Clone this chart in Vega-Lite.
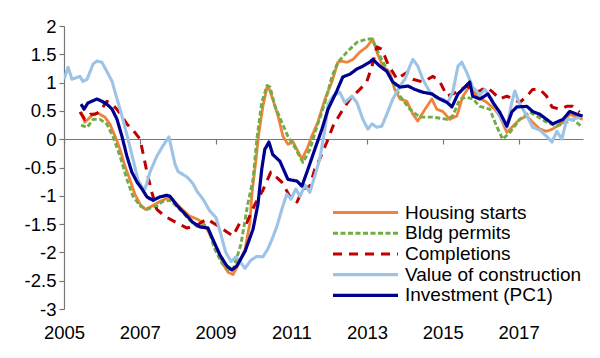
{
  "$schema": "https://vega.github.io/schema/vega-lite/v6.json",
  "width": 519,
  "height": 283,
  "autosize": "none",
  "padding": {"left": 64, "top": 26, "right": 17, "bottom": 49},
  "background": "white",
  "config": {"view": {"stroke": null}, "font": "Liberation Sans"},
  "data": {"values": [
    {"s":"Housing starts","t":2005.45,"v":0.48},{"s":"Housing starts","t":2005.55,"v":0.30},{"s":"Housing starts","t":2005.63,"v":0.35},{"s":"Housing starts","t":2005.77,"v":0.44},{"s":"Housing starts","t":2005.90,"v":0.46},{"s":"Housing starts","t":2006.08,"v":0.39},{"s":"Housing starts","t":2006.21,"v":0.27},{"s":"Housing starts","t":2006.35,"v":0.05},{"s":"Housing starts","t":2006.48,"v":-0.18},{"s":"Housing starts","t":2006.61,"v":-0.48},{"s":"Housing starts","t":2006.74,"v":-0.71},{"s":"Housing starts","t":2006.87,"v":-0.97},{"s":"Housing starts","t":2007.01,"v":-1.15},{"s":"Housing starts","t":2007.14,"v":-1.24},{"s":"Housing starts","t":2007.27,"v":-1.20},{"s":"Housing starts","t":2007.40,"v":-1.15},{"s":"Housing starts","t":2007.53,"v":-1.10},{"s":"Housing starts","t":2007.80,"v":-1.02},{"s":"Housing starts","t":2008.06,"v":-1.20},{"s":"Housing starts","t":2008.32,"v":-1.36},{"s":"Housing starts","t":2008.51,"v":-1.41},{"s":"Housing starts","t":2008.67,"v":-1.47},{"s":"Housing starts","t":2008.85,"v":-1.68},{"s":"Housing starts","t":2009.04,"v":-1.94},{"s":"Housing starts","t":2009.20,"v":-2.21},{"s":"Housing starts","t":2009.33,"v":-2.35},{"s":"Housing starts","t":2009.46,"v":-2.39},{"s":"Housing starts","t":2009.64,"v":-2.17},{"s":"Housing starts","t":2009.78,"v":-1.94},{"s":"Housing starts","t":2009.91,"v":-1.47},{"s":"Housing starts","t":2009.96,"v":-0.97},{"s":"Housing starts","t":2010.07,"v":-0.35},{"s":"Housing starts","t":2010.14,"v":0.09},{"s":"Housing starts","t":2010.25,"v":0.58},{"s":"Housing starts","t":2010.36,"v":0.92},{"s":"Housing starts","t":2010.41,"v":0.90},{"s":"Housing starts","t":2010.51,"v":0.71},{"s":"Housing starts","t":2010.65,"v":0.41},{"s":"Housing starts","t":2010.78,"v":0.05},{"s":"Housing starts","t":2010.91,"v":-0.09},{"s":"Housing starts","t":2011.04,"v":-0.04},{"s":"Housing starts","t":2011.17,"v":-0.21},{"s":"Housing starts","t":2011.28,"v":-0.35},{"s":"Housing starts","t":2011.41,"v":-0.18},{"s":"Housing starts","t":2011.54,"v":0.05},{"s":"Housing starts","t":2011.70,"v":0.30},{"s":"Housing starts","t":2011.89,"v":0.71},{"s":"Housing starts","t":2012.07,"v":1.01},{"s":"Housing starts","t":2012.23,"v":1.36},{"s":"Housing starts","t":2012.33,"v":1.38},{"s":"Housing starts","t":2012.47,"v":1.36},{"s":"Housing starts","t":2012.63,"v":1.41},{"s":"Housing starts","t":2012.81,"v":1.54},{"s":"Housing starts","t":2012.99,"v":1.63},{"s":"Housing starts","t":2013.15,"v":1.77},{"s":"Housing starts","t":2013.28,"v":1.50},{"s":"Housing starts","t":2013.42,"v":1.29},{"s":"Housing starts","t":2013.60,"v":1.18},{"s":"Housing starts","t":2013.73,"v":0.88},{"s":"Housing starts","t":2013.87,"v":0.71},{"s":"Housing starts","t":2014.05,"v":0.67},{"s":"Housing starts","t":2014.21,"v":0.44},{"s":"Housing starts","t":2014.34,"v":0.32},{"s":"Housing starts","t":2014.53,"v":0.53},{"s":"Housing starts","t":2014.71,"v":0.71},{"s":"Housing starts","t":2014.84,"v":0.53},{"s":"Housing starts","t":2015.00,"v":0.49},{"s":"Housing starts","t":2015.18,"v":0.35},{"s":"Housing starts","t":2015.37,"v":0.41},{"s":"Housing starts","t":2015.53,"v":0.76},{"s":"Housing starts","t":2015.71,"v":0.94},{"s":"Housing starts","t":2015.90,"v":0.76},{"s":"Housing starts","t":2016.16,"v":0.65},{"s":"Housing starts","t":2016.37,"v":0.53},{"s":"Housing starts","t":2016.50,"v":0.41},{"s":"Housing starts","t":2016.69,"v":0.12},{"s":"Housing starts","t":2016.85,"v":0.23},{"s":"Housing starts","t":2017.03,"v":0.35},{"s":"Housing starts","t":2017.22,"v":0.41},{"s":"Housing starts","t":2017.37,"v":0.30},{"s":"Housing starts","t":2017.56,"v":0.18},{"s":"Housing starts","t":2017.74,"v":0.14},{"s":"Housing starts","t":2017.90,"v":0.18},{"s":"Housing starts","t":2018.17,"v":0.30},{"s":"Housing starts","t":2018.35,"v":0.44},{"s":"Housing starts","t":2018.54,"v":0.39},{"s":"Housing starts","t":2018.69,"v":0.35},

    {"s":"Bldg permits","t":2005.45,"v":0.25},{"s":"Bldg permits","t":2005.61,"v":0.21},{"s":"Bldg permits","t":2005.77,"v":0.35},{"s":"Bldg permits","t":2005.95,"v":0.35},{"s":"Bldg permits","t":2006.13,"v":0.27},{"s":"Bldg permits","t":2006.29,"v":0.05},{"s":"Bldg permits","t":2006.48,"v":-0.30},{"s":"Bldg permits","t":2006.66,"v":-0.71},{"s":"Bldg permits","t":2006.82,"v":-1.01},{"s":"Bldg permits","t":2007.01,"v":-1.18},{"s":"Bldg permits","t":2007.19,"v":-1.24},{"s":"Bldg permits","t":2007.45,"v":-1.18},{"s":"Bldg permits","t":2007.61,"v":-1.10},{"s":"Bldg permits","t":2007.80,"v":-1.08},{"s":"Bldg permits","t":2008.06,"v":-1.24},{"s":"Bldg permits","t":2008.32,"v":-1.43},{"s":"Bldg permits","t":2008.51,"v":-1.54},{"s":"Bldg permits","t":2008.77,"v":-1.52},{"s":"Bldg permits","t":2008.98,"v":-1.94},{"s":"Bldg permits","t":2009.17,"v":-2.19},{"s":"Bldg permits","t":2009.33,"v":-2.30},{"s":"Bldg permits","t":2009.46,"v":-2.31},{"s":"Bldg permits","t":2009.67,"v":-1.86},{"s":"Bldg permits","t":2009.85,"v":-1.15},{"s":"Bldg permits","t":2009.99,"v":-0.71},{"s":"Bldg permits","t":2010.09,"v":0.00},{"s":"Bldg permits","t":2010.22,"v":0.65},{"s":"Bldg permits","t":2010.36,"v":0.95},{"s":"Bldg permits","t":2010.44,"v":0.92},{"s":"Bldg permits","t":2010.57,"v":0.58},{"s":"Bldg permits","t":2010.75,"v":0.30},{"s":"Bldg permits","t":2010.91,"v":0.05},{"s":"Bldg permits","t":2011.09,"v":-0.14},{"s":"Bldg permits","t":2011.23,"v":-0.32},{"s":"Bldg permits","t":2011.31,"v":-0.41},{"s":"Bldg permits","t":2011.49,"v":-0.18},{"s":"Bldg permits","t":2011.68,"v":0.23},{"s":"Bldg permits","t":2011.89,"v":0.65},{"s":"Bldg permits","t":2012.07,"v":1.10},{"s":"Bldg permits","t":2012.23,"v":1.36},{"s":"Bldg permits","t":2012.47,"v":1.54},{"s":"Bldg permits","t":2012.73,"v":1.71},{"s":"Bldg permits","t":2012.99,"v":1.77},{"s":"Bldg permits","t":2013.13,"v":1.77},{"s":"Bldg permits","t":2013.34,"v":1.47},{"s":"Bldg permits","t":2013.52,"v":1.24},{"s":"Bldg permits","t":2013.73,"v":0.94},{"s":"Bldg permits","t":2013.87,"v":0.76},{"s":"Bldg permits","t":2014.13,"v":0.53},{"s":"Bldg permits","t":2014.39,"v":0.39},{"s":"Bldg permits","t":2014.74,"v":0.39},{"s":"Bldg permits","t":2015.11,"v":0.35},{"s":"Bldg permits","t":2015.26,"v":0.41},{"s":"Bldg permits","t":2015.45,"v":0.71},{"s":"Bldg permits","t":2015.63,"v":0.74},{"s":"Bldg permits","t":2015.79,"v":0.71},{"s":"Bldg permits","t":2015.98,"v":0.58},{"s":"Bldg permits","t":2016.24,"v":0.53},{"s":"Bldg permits","t":2016.42,"v":0.23},{"s":"Bldg permits","t":2016.58,"v":0.00},{"s":"Bldg permits","t":2016.77,"v":0.12},{"s":"Bldg permits","t":2017.03,"v":0.35},{"s":"Bldg permits","t":2017.30,"v":0.48},{"s":"Bldg permits","t":2017.48,"v":0.41},{"s":"Bldg permits","t":2017.74,"v":0.30},{"s":"Bldg permits","t":2018.01,"v":0.23},{"s":"Bldg permits","t":2018.27,"v":0.30},{"s":"Bldg permits","t":2018.43,"v":0.35},{"s":"Bldg permits","t":2018.69,"v":0.21},

    {"s":"Completions","t":2005.42,"v":0.48},{"s":"Completions","t":2005.55,"v":0.35},{"s":"Completions","t":2005.69,"v":0.44},{"s":"Completions","t":2005.82,"v":0.44},{"s":"Completions","t":2005.95,"v":0.49},{"s":"Completions","t":2006.13,"v":0.67},{"s":"Completions","t":2006.27,"v":0.62},{"s":"Completions","t":2006.42,"v":0.51},{"s":"Completions","t":2006.66,"v":0.27},{"s":"Completions","t":2006.87,"v":0.12},{"s":"Completions","t":2007.01,"v":0.00},{"s":"Completions","t":2007.08,"v":-0.23},{"s":"Completions","t":2007.19,"v":-0.58},{"s":"Completions","t":2007.32,"v":-0.94},{"s":"Completions","t":2007.45,"v":-1.24},{"s":"Completions","t":2007.66,"v":-1.36},{"s":"Completions","t":2007.98,"v":-1.48},{"s":"Completions","t":2008.25,"v":-1.57},{"s":"Completions","t":2008.51,"v":-1.52},{"s":"Completions","t":2008.77,"v":-1.41},{"s":"Completions","t":2009.04,"v":-1.52},{"s":"Completions","t":2009.30,"v":-1.64},{"s":"Completions","t":2009.46,"v":-1.71},{"s":"Completions","t":2009.64,"v":-1.48},{"s":"Completions","t":2009.83,"v":-1.47},{"s":"Completions","t":2010.04,"v":-1.15},{"s":"Completions","t":2010.25,"v":-0.90},{"s":"Completions","t":2010.46,"v":-0.58},{"s":"Completions","t":2010.75,"v":-0.76},{"s":"Completions","t":2010.96,"v":-1.01},{"s":"Completions","t":2011.15,"v":-1.11},{"s":"Completions","t":2011.31,"v":-0.88},{"s":"Completions","t":2011.49,"v":-0.83},{"s":"Completions","t":2011.62,"v":-0.53},{"s":"Completions","t":2011.75,"v":-0.35},{"s":"Completions","t":2011.94,"v":-0.05},{"s":"Completions","t":2012.10,"v":0.23},{"s":"Completions","t":2012.33,"v":0.49},{"s":"Completions","t":2012.55,"v":0.71},{"s":"Completions","t":2012.81,"v":0.88},{"s":"Completions","t":2012.99,"v":1.01},{"s":"Completions","t":2013.13,"v":1.29},{"s":"Completions","t":2013.26,"v":1.63},{"s":"Completions","t":2013.39,"v":1.59},{"s":"Completions","t":2013.55,"v":1.33},{"s":"Completions","t":2013.79,"v":1.06},{"s":"Completions","t":2014.05,"v":1.18},{"s":"Completions","t":2014.21,"v":1.06},{"s":"Completions","t":2014.47,"v":1.01},{"s":"Completions","t":2014.74,"v":1.11},{"s":"Completions","t":2014.92,"v":1.02},{"s":"Completions","t":2015.11,"v":0.76},{"s":"Completions","t":2015.37,"v":0.83},{"s":"Completions","t":2015.63,"v":0.94},{"s":"Completions","t":2015.90,"v":0.83},{"s":"Completions","t":2016.16,"v":0.92},{"s":"Completions","t":2016.32,"v":0.83},{"s":"Completions","t":2016.50,"v":0.71},{"s":"Completions","t":2016.69,"v":0.76},{"s":"Completions","t":2016.85,"v":0.71},{"s":"Completions","t":2017.03,"v":0.65},{"s":"Completions","t":2017.22,"v":0.76},{"s":"Completions","t":2017.37,"v":0.88},{"s":"Completions","t":2017.56,"v":0.88},{"s":"Completions","t":2017.74,"v":0.76},{"s":"Completions","t":2017.88,"v":0.57},{"s":"Completions","t":2018.09,"v":0.53},{"s":"Completions","t":2018.27,"v":0.58},{"s":"Completions","t":2018.43,"v":0.58},{"s":"Completions","t":2018.61,"v":0.48},

    {"s":"Value of construction","t":2005.00,"v":1.06},{"s":"Value of construction","t":2005.11,"v":1.27},{"s":"Value of construction","t":2005.21,"v":1.06},{"s":"Value of construction","t":2005.42,"v":1.11},{"s":"Value of construction","t":2005.50,"v":1.02},{"s":"Value of construction","t":2005.61,"v":1.06},{"s":"Value of construction","t":2005.77,"v":1.33},{"s":"Value of construction","t":2005.87,"v":1.38},{"s":"Value of construction","t":2006.00,"v":1.36},{"s":"Value of construction","t":2006.13,"v":1.20},{"s":"Value of construction","t":2006.27,"v":1.02},{"s":"Value of construction","t":2006.40,"v":0.71},{"s":"Value of construction","t":2006.53,"v":0.41},{"s":"Value of construction","t":2006.69,"v":0.00},{"s":"Value of construction","t":2006.82,"v":-0.35},{"s":"Value of construction","t":2006.95,"v":-0.71},{"s":"Value of construction","t":2007.06,"v":-0.85},{"s":"Value of construction","t":2007.14,"v":-0.88},{"s":"Value of construction","t":2007.27,"v":-0.58},{"s":"Value of construction","t":2007.45,"v":-0.30},{"s":"Value of construction","t":2007.61,"v":-0.12},{"s":"Value of construction","t":2007.77,"v":0.04},{"s":"Value of construction","t":2007.93,"v":-0.44},{"s":"Value of construction","t":2008.01,"v":-0.57},{"s":"Value of construction","t":2008.25,"v":-0.67},{"s":"Value of construction","t":2008.40,"v":-0.78},{"s":"Value of construction","t":2008.51,"v":-0.92},{"s":"Value of construction","t":2008.67,"v":-1.06},{"s":"Value of construction","t":2008.85,"v":-1.27},{"s":"Value of construction","t":2009.01,"v":-1.38},{"s":"Value of construction","t":2009.14,"v":-1.68},{"s":"Value of construction","t":2009.27,"v":-2.00},{"s":"Value of construction","t":2009.41,"v":-2.16},{"s":"Value of construction","t":2009.54,"v":-2.08},{"s":"Value of construction","t":2009.64,"v":-2.16},{"s":"Value of construction","t":2009.78,"v":-2.28},{"s":"Value of construction","t":2009.93,"v":-2.14},{"s":"Value of construction","t":2010.09,"v":-2.07},{"s":"Value of construction","t":2010.25,"v":-2.08},{"s":"Value of construction","t":2010.38,"v":-1.94},{"s":"Value of construction","t":2010.49,"v":-1.77},{"s":"Value of construction","t":2010.62,"v":-1.54},{"s":"Value of construction","t":2010.75,"v":-1.24},{"s":"Value of construction","t":2010.88,"v":-0.97},{"s":"Value of construction","t":2010.99,"v":-1.06},{"s":"Value of construction","t":2011.12,"v":-0.88},{"s":"Value of construction","t":2011.23,"v":-1.01},{"s":"Value of construction","t":2011.36,"v":-0.81},{"s":"Value of construction","t":2011.49,"v":-0.94},{"s":"Value of construction","t":2011.62,"v":-0.65},{"s":"Value of construction","t":2011.75,"v":-0.35},{"s":"Value of construction","t":2011.89,"v":0.18},{"s":"Value of construction","t":2011.97,"v":0.62},{"s":"Value of construction","t":2012.10,"v":0.76},{"s":"Value of construction","t":2012.28,"v":0.83},{"s":"Value of construction","t":2012.41,"v":0.65},{"s":"Value of construction","t":2012.60,"v":0.76},{"s":"Value of construction","t":2012.73,"v":0.65},{"s":"Value of construction","t":2012.89,"v":0.35},{"s":"Value of construction","t":2013.02,"v":0.18},{"s":"Value of construction","t":2013.13,"v":0.27},{"s":"Value of construction","t":2013.26,"v":0.21},{"s":"Value of construction","t":2013.39,"v":0.23},{"s":"Value of construction","t":2013.52,"v":0.44},{"s":"Value of construction","t":2013.68,"v":0.71},{"s":"Value of construction","t":2013.87,"v":0.94},{"s":"Value of construction","t":2014.00,"v":1.06},{"s":"Value of construction","t":2014.13,"v":1.29},{"s":"Value of construction","t":2014.21,"v":1.41},{"s":"Value of construction","t":2014.34,"v":1.29},{"s":"Value of construction","t":2014.47,"v":1.06},{"s":"Value of construction","t":2014.66,"v":0.83},{"s":"Value of construction","t":2014.84,"v":0.72},{"s":"Value of construction","t":2015.00,"v":0.71},{"s":"Value of construction","t":2015.13,"v":0.65},{"s":"Value of construction","t":2015.26,"v":0.83},{"s":"Value of construction","t":2015.40,"v":1.29},{"s":"Value of construction","t":2015.50,"v":1.36},{"s":"Value of construction","t":2015.63,"v":1.18},{"s":"Value of construction","t":2015.79,"v":0.92},{"s":"Value of construction","t":2015.98,"v":0.78},{"s":"Value of construction","t":2016.11,"v":0.88},{"s":"Value of construction","t":2016.29,"v":0.71},{"s":"Value of construction","t":2016.50,"v":0.41},{"s":"Value of construction","t":2016.69,"v":0.21},{"s":"Value of construction","t":2016.82,"v":0.65},{"s":"Value of construction","t":2016.90,"v":0.85},{"s":"Value of construction","t":2017.03,"v":0.62},{"s":"Value of construction","t":2017.22,"v":0.41},{"s":"Value of construction","t":2017.37,"v":0.21},{"s":"Value of construction","t":2017.56,"v":0.16},{"s":"Value of construction","t":2017.74,"v":0.05},{"s":"Value of construction","t":2017.88,"v":-0.05},{"s":"Value of construction","t":2018.01,"v":0.14},{"s":"Value of construction","t":2018.14,"v":0.00},{"s":"Value of construction","t":2018.27,"v":0.35},{"s":"Value of construction","t":2018.43,"v":0.35},{"s":"Value of construction","t":2018.61,"v":0.39},{"s":"Value of construction","t":2018.69,"v":0.42},

    {"s":"Investment (PC1)","t":2005.45,"v":0.62},{"s":"Investment (PC1)","t":2005.53,"v":0.53},{"s":"Investment (PC1)","t":2005.63,"v":0.64},{"s":"Investment (PC1)","t":2005.87,"v":0.71},{"s":"Investment (PC1)","t":2006.00,"v":0.67},{"s":"Investment (PC1)","t":2006.13,"v":0.62},{"s":"Investment (PC1)","t":2006.27,"v":0.53},{"s":"Investment (PC1)","t":2006.40,"v":0.35},{"s":"Investment (PC1)","t":2006.53,"v":0.05},{"s":"Investment (PC1)","t":2006.66,"v":-0.30},{"s":"Investment (PC1)","t":2006.79,"v":-0.58},{"s":"Investment (PC1)","t":2006.93,"v":-0.76},{"s":"Investment (PC1)","t":2007.06,"v":-0.88},{"s":"Investment (PC1)","t":2007.19,"v":-1.02},{"s":"Investment (PC1)","t":2007.35,"v":-1.08},{"s":"Investment (PC1)","t":2007.53,"v":-1.02},{"s":"Investment (PC1)","t":2007.72,"v":-0.99},{"s":"Investment (PC1)","t":2007.80,"v":-1.01},{"s":"Investment (PC1)","t":2007.98,"v":-1.17},{"s":"Investment (PC1)","t":2008.25,"v":-1.36},{"s":"Investment (PC1)","t":2008.40,"v":-1.47},{"s":"Investment (PC1)","t":2008.59,"v":-1.55},{"s":"Investment (PC1)","t":2008.80,"v":-1.57},{"s":"Investment (PC1)","t":2008.93,"v":-1.77},{"s":"Investment (PC1)","t":2009.12,"v":-2.05},{"s":"Investment (PC1)","t":2009.30,"v":-2.24},{"s":"Investment (PC1)","t":2009.43,"v":-2.31},{"s":"Investment (PC1)","t":2009.56,"v":-2.24},{"s":"Investment (PC1)","t":2009.78,"v":-1.98},{"s":"Investment (PC1)","t":2009.99,"v":-1.59},{"s":"Investment (PC1)","t":2010.12,"v":-1.15},{"s":"Investment (PC1)","t":2010.22,"v":-0.53},{"s":"Investment (PC1)","t":2010.30,"v":-0.18},{"s":"Investment (PC1)","t":2010.41,"v":-0.05},{"s":"Investment (PC1)","t":2010.51,"v":-0.27},{"s":"Investment (PC1)","t":2010.70,"v":-0.39},{"s":"Investment (PC1)","t":2010.91,"v":-0.71},{"s":"Investment (PC1)","t":2011.15,"v":-0.74},{"s":"Investment (PC1)","t":2011.28,"v":-0.83},{"s":"Investment (PC1)","t":2011.44,"v":-0.53},{"s":"Investment (PC1)","t":2011.62,"v":-0.18},{"s":"Investment (PC1)","t":2011.81,"v":0.18},{"s":"Investment (PC1)","t":2011.97,"v":0.53},{"s":"Investment (PC1)","t":2012.20,"v":0.85},{"s":"Investment (PC1)","t":2012.36,"v":1.10},{"s":"Investment (PC1)","t":2012.55,"v":1.15},{"s":"Investment (PC1)","t":2012.73,"v":1.24},{"s":"Investment (PC1)","t":2012.89,"v":1.29},{"s":"Investment (PC1)","t":2013.07,"v":1.36},{"s":"Investment (PC1)","t":2013.15,"v":1.41},{"s":"Investment (PC1)","t":2013.34,"v":1.29},{"s":"Investment (PC1)","t":2013.52,"v":1.20},{"s":"Investment (PC1)","t":2013.68,"v":1.01},{"s":"Investment (PC1)","t":2013.87,"v":0.92},{"s":"Investment (PC1)","t":2014.08,"v":0.94},{"s":"Investment (PC1)","t":2014.26,"v":0.88},{"s":"Investment (PC1)","t":2014.47,"v":0.83},{"s":"Investment (PC1)","t":2014.71,"v":0.80},{"s":"Investment (PC1)","t":2014.92,"v":0.71},{"s":"Investment (PC1)","t":2015.11,"v":0.65},{"s":"Investment (PC1)","t":2015.24,"v":0.57},{"s":"Investment (PC1)","t":2015.40,"v":0.80},{"s":"Investment (PC1)","t":2015.58,"v":0.92},{"s":"Investment (PC1)","t":2015.71,"v":1.01},{"s":"Investment (PC1)","t":2015.79,"v":0.76},{"s":"Investment (PC1)","t":2015.98,"v":0.71},{"s":"Investment (PC1)","t":2016.19,"v":0.80},{"s":"Investment (PC1)","t":2016.32,"v":0.65},{"s":"Investment (PC1)","t":2016.50,"v":0.48},{"s":"Investment (PC1)","t":2016.69,"v":0.23},{"s":"Investment (PC1)","t":2016.82,"v":0.48},{"s":"Investment (PC1)","t":2016.95,"v":0.57},{"s":"Investment (PC1)","t":2017.22,"v":0.58},{"s":"Investment (PC1)","t":2017.37,"v":0.49},{"s":"Investment (PC1)","t":2017.56,"v":0.44},{"s":"Investment (PC1)","t":2017.90,"v":0.27},{"s":"Investment (PC1)","t":2018.17,"v":0.35},{"s":"Investment (PC1)","t":2018.35,"v":0.49},{"s":"Investment (PC1)","t":2018.54,"v":0.44},{"s":"Investment (PC1)","t":2018.69,"v":0.41}
  ]},
  "mark": {"type": "line", "clip": true, "strokeCap": "butt", "strokeJoin": "round"},
  "encoding": {
    "x": {
      "field": "t", "type": "quantitative",
      "scale": {"domain": [2005, 2018.7], "nice": false, "zero": false},
      "axis": {
        "title": null, "values": [2005, 2007, 2009, 2011, 2013, 2015, 2017],
        "labelExpr": "toString(datum.value)", "offset": -170,
        "domainColor": "#777777", "domainWidth": 1.2, "tickColor": "#777777", "tickSize": 5, "tickWidth": 1.2,
        "labelPadding": 179, "labelFontSize": 18.5, "labelColor": "#000000", "labelFont": "Liberation Sans", "grid": false, "labelFlush": false
      }
    },
    "y": {
      "field": "v", "type": "quantitative",
      "scale": {"domain": [-3, 2], "nice": false, "zero": false},
      "axis": {
        "title": null, "values": [-3, -2.5, -2, -1.5, -1, -0.5, 0, 0.5, 1, 1.5, 2],
        "labelExpr": "toString(datum.value)",
        "domainColor": "#777777", "domainWidth": 1.2, "tickColor": "#777777", "tickSize": 5, "tickWidth": 1.2,
        "labelPadding": 3, "labelFontSize": 18.5, "labelColor": "#000000", "labelFont": "Liberation Sans", "grid": false
      }
    },
    "color": {
      "field": "s", "type": "nominal",
      "scale": {"domain": ["Housing starts", "Bldg permits", "Completions", "Value of construction", "Investment (PC1)"],
                "range": ["#F0823A", "#70AD47", "#C00000", "#9DC3E6", "#000090"]},
      "legend": {
        "title": null, "orient": "none", "legendX": 292, "legendY": 177,
        "symbolType": "M-13,0H13", "symbolSize": 25, "labelFontSize": 19, "labelFont": "Liberation Sans",
        "labelColor": "#000000", "labelOffset": 30, "rowPadding": 0.7, "padding": 0, "labelLimit": 400
      }
    },
    "strokeDash": {
      "field": "s", "type": "nominal",
      "scale": {"domain": ["Housing starts", "Bldg permits", "Completions", "Value of construction", "Investment (PC1)"],
                "range": [[1, 0], [5, 2.5], [9, 7], [1, 0], [1, 0]]}
    },
    "strokeWidth": {
      "field": "s", "type": "nominal",
      "scale": {"domain": ["Housing starts", "Bldg permits", "Completions", "Value of construction", "Investment (PC1)"],
                "range": [2.8, 3.2, 3, 3.2, 3.4]}
    }
  }
}
